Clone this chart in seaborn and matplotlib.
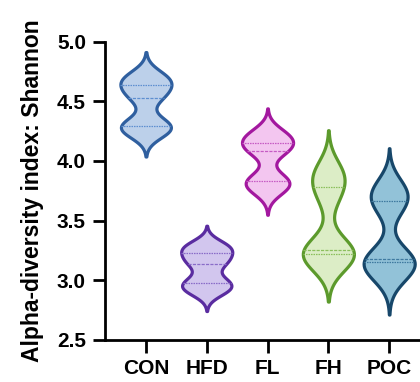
import numpy as np
import pandas as pd
import matplotlib
matplotlib.use("Agg")
import matplotlib.pyplot as plt
import seaborn as sns

# Shannon index per sample, one list per group
groups = ["CON", "HFD", "FL", "FH", "POC"]
con = [4.25, 4.28, 4.31, 4.53, 4.60, 4.68, 4.70]
hfd = [2.91, 2.95, 3.00, 3.135, 3.19, 3.265, 3.29]
fl = [3.76, 3.82, 3.846, 4.087, 4.12, 4.188, 4.23]
fh = [3.18, 3.215, 3.23, 3.25, 3.70, 3.86, 3.90]
poc = [3.05, 3.14, 3.17, 3.175, 3.62, 3.71, 3.77]
values = [con, hfd, fl, fh, poc]

yticks = [2.5, 3.0, 3.5, 4.0, 4.5, 5.0]

edge_colors = ["#2f5f9f", "#5a2ca0", "#a3189f", "#5c9a2c", "#17476a"]
fill_colors = ["#bcd0ea", "#d2c6ee", "#f3c6f0", "#dcedc6", "#92c2d8"]
inner_colors = ["#5e8fd0", "#8a6cc8", "#c65cc4", "#8cbf5c", "#3f7aa0"]

sns.set_theme(style="ticks")
plt.rcParams["font.family"] = ["Liberation Sans", "DejaVu Sans"]
plt.rcParams["text.color"] = "black"
plt.rcParams["axes.labelcolor"] = "black"
plt.rcParams["xtick.color"] = "black"
plt.rcParams["ytick.color"] = "black"

df = pd.DataFrame({
    "group": np.repeat(groups, [len(v) for v in values]),
    "shannon": np.concatenate(values),
})

fig = plt.figure(figsize=(4.2, 3.82), dpi=100)
ax = fig.add_axes([0.251, 0.110, 0.749, 0.781])

sns.violinplot(
    data=df, x="group", y="shannon", hue="group",
    order=groups, hue_order=groups, palette=fill_colors, legend=False,
    inner="quart", cut=2.6, bw_adjust=0.62, density_norm="area",
    width=0.84, linewidth=2.3, saturation=1,
    inner_kws=dict(linewidth=0.9), ax=ax,
)

# per-group outline and quartile line colours
for i, poly in enumerate(ax.collections[:len(groups)]):
    poly.set_facecolor(fill_colors[i])
    poly.set_edgecolor(edge_colors[i])
    poly.set_linewidth(2.3)
for i in range(len(groups)):
    for ln in ax.lines[3 * i:3 * i + 3]:
        ln.set_color(inner_colors[i])

ax.set_ylim(2.5, 5.0)
ax.set_xlim(-0.666, 4.507)
ax.set_yticks(yticks)
ax.set_yticklabels([f"{t:.1f}" for t in yticks])
ax.set_xlabel("")
ax.set_ylabel("Alpha-diversity index: Shannon", fontsize=16.5, fontweight="bold",
              labelpad=9)

for side in ["top", "right"]:
    ax.spines[side].set_visible(False)
for side in ["left", "bottom"]:
    ax.spines[side].set_linewidth(2.0)
    ax.spines[side].set_color("black")

ax.tick_params(axis="both", direction="out", length=9, width=2.0,
               color="black", labelcolor="black", labelsize=15, pad=5)
for lab in ax.get_xticklabels() + ax.get_yticklabels():
    lab.set_fontweight("bold")

fig.savefig("out.png", dpi=100)
